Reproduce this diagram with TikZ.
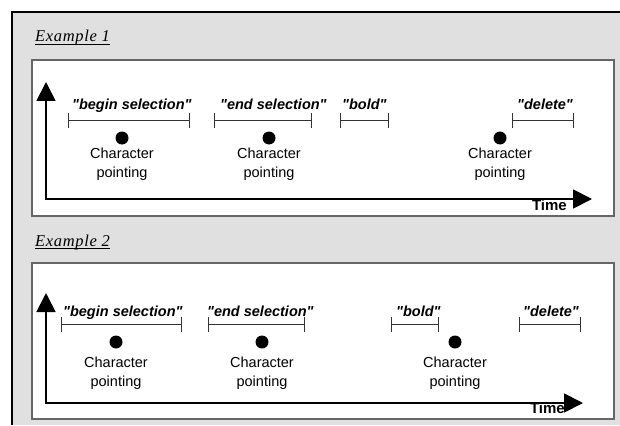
\documentclass[tikz,border=0pt]{standalone}
\usepackage{fontspec}
\setmainfont{Liberation Serif}
\setsansfont{Liberation Sans}
\usetikzlibrary{arrows.meta}

\definecolor{panelgray}{HTML}{E0E0E0}
\definecolor{boxedge}{HTML}{666666}
\definecolor{spanink}{HTML}{333333}

\newcommand{\qq}[1]{\textquotedbl#1\textquotedbl}

\tikzset{
  cmd/.style={font=\sffamily\bfseries\itshape\fontsize{14.5}{17}\selectfont, anchor=base west, inner sep=0pt},
  evt/.style={font=\sffamily\fontsize{14.5}{18.5}\selectfont, anchor=base, inner sep=0pt, align=center},
  dotmark/.style={circle, fill=black, minimum size=13pt, inner sep=0pt},
  span/.style={draw=spanink, line width=0.9pt, {Bar[width=15pt]}-{Bar[width=15pt]}},
  axis/.style={line width=1.8pt, line join=miter, {Triangle[length=19pt,width=19pt]}-{Triangle[length=19pt,width=19pt]}},
  exlabel/.style={font=\itshape\fontsize{16.5}{19}\selectfont\addfontfeature{LetterSpace=4}, anchor=base west, inner sep=0pt},
  timelabel/.style={font=\sffamily\bfseries\fontsize{15}{18}\selectfont, anchor=base east, inner sep=0pt},
  panel/.style={draw=boxedge, line width=1.5pt, fill=white},
  underl/.style={line width=0.8pt},
}

\begin{document}
\begin{tikzpicture}[x=1pt,y=-1pt]
\useasboundingbox (0,0) rectangle (620,425);

% grey surround with its heavy top and left edge
\fill[panelgray] (11,12) rectangle (620,425);
\draw[line width=2pt] (11.5,425) -- (11.5,12.5) -- (620,12.5);

% ---------------- first example ----------------
\node[exlabel] (ex1) at (35,42) {Example 1};
\draw[underl] ([yshift=-2pt]ex1.base west) -- ([yshift=-2pt]ex1.base east);

\draw[panel] (32,60) rectangle (614,216);

\coordinate (a1y) at (46,82);
\coordinate (a1o) at (46,199);
\coordinate (a1x) at (592,199);
\draw[axis] (a1y) -- (a1o) -- (a1x);
\node[timelabel] (t1) at (567,210) {Time};

% spoken commands with their durations
\node[cmd] (c1a) at (72,110) {\qq{begin selection}};
\coordinate (s1a) at (68,120);  \coordinate (e1a) at (190,120);
\draw[span] (s1a) -- (e1a);

\node[cmd] (c1b) at (220,110) {\qq{end selection}};
\coordinate (s1b) at (214,120); \coordinate (e1b) at (312,120);
\draw[span] (s1b) -- (e1b);

\node[cmd] (c1c) at (342,110) {\qq{bold}};
\coordinate (s1c) at (340,120); \coordinate (e1c) at (389,120);
\draw[span] (s1c) -- (e1c);

\node[cmd] (c1d) at (517,110) {\qq{delete}};
\coordinate (s1d) at (512,120); \coordinate (e1d) at (574,120);
\draw[span] (s1d) -- (e1d);

% pointing events (anchored on the baseline of the second line)
\node[dotmark] (p1a) at (122,138) {};
\node[evt] (l1a) at (122,177) {Character\\pointing};
\node[dotmark] (p1b) at (269,138) {};
\node[evt] (l1b) at (269,177) {Character\\pointing};
\node[dotmark] (p1c) at (500,138) {};
\node[evt] (l1c) at (500,177) {Character\\pointing};

% ---------------- second example ----------------
\node[exlabel] (ex2) at (35,246) {Example 2};
\draw[underl] ([yshift=-2pt]ex2.base west) -- ([yshift=-2pt]ex2.base east);

\draw[panel] (32,263) rectangle (614,419);

\coordinate (a2y) at (46,293);
\coordinate (a2o) at (46,403);
\coordinate (a2x) at (583,403);
\draw[axis] (a2y) -- (a2o) -- (a2x);
\node[timelabel] (t2) at (565,413) {Time};

\node[cmd] (c2a) at (63,316) {\qq{begin selection}};
\coordinate (s2a) at (61,324);  \coordinate (e2a) at (182,324);
\draw[span] (s2a) -- (e2a);

\node[cmd] (c2b) at (207,316) {\qq{end selection}};
\coordinate (s2b) at (208,324); \coordinate (e2b) at (305,324);
\draw[span] (s2b) -- (e2b);

\node[cmd] (c2c) at (396,316) {\qq{bold}};
\coordinate (s2c) at (391,324); \coordinate (e2c) at (439,324);
\draw[span] (s2c) -- (e2c);

\node[cmd] (c2d) at (523,316) {\qq{delete}};
\coordinate (s2d) at (519,324); \coordinate (e2d) at (581,324);
\draw[span] (s2d) -- (e2d);

\node[dotmark] (p2a) at (116,342) {};
\node[evt] (l2a) at (116,386) {Character\\pointing};
\node[dotmark] (p2b) at (262,342) {};
\node[evt] (l2b) at (262,386) {Character\\pointing};
\node[dotmark] (p2c) at (455,342) {};
\node[evt] (l2c) at (455,386) {Character\\pointing};

\end{tikzpicture}
\end{document}
